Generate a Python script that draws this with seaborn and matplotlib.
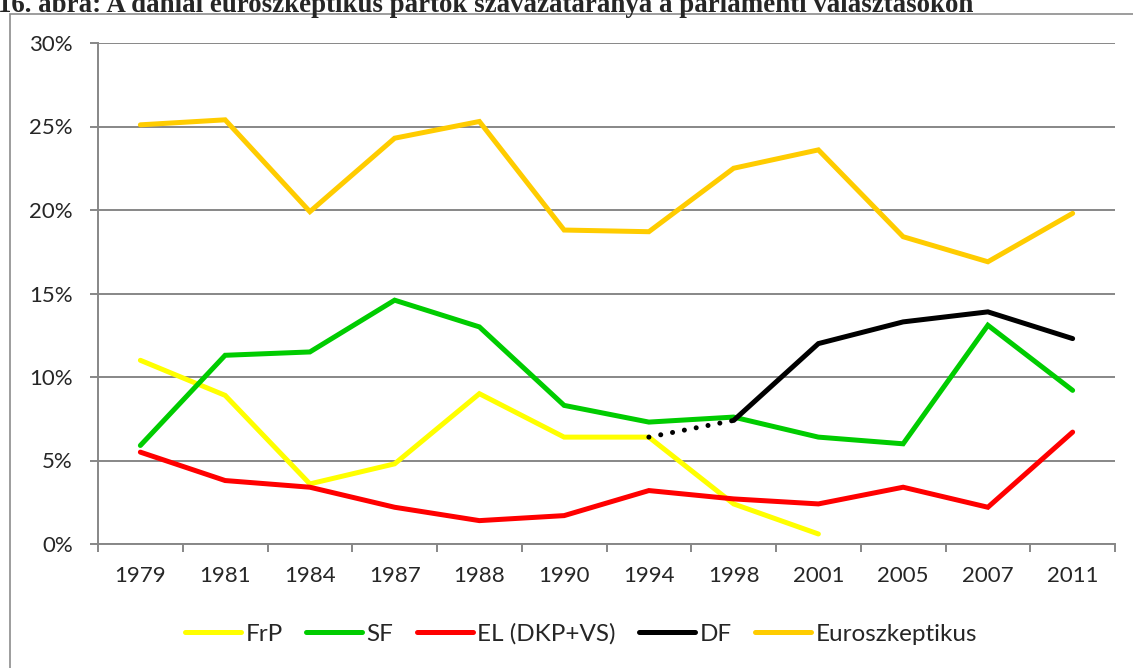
import numpy as np
import pandas as pd
import matplotlib
matplotlib.use('Agg')
import matplotlib.pyplot as plt
from matplotlib.patches import Rectangle
from matplotlib.lines import Line2D
from matplotlib.ticker import FixedLocator, PercentFormatter
import seaborn as sns

years = ['1979', '1981', '1984', '1987', '1988', '1990', '1994', '1998', '2001', '2005', '2007', '2011']
nan = np.nan
frp = [11.0, 8.9, 3.6, 4.8, 9.0, 6.4, 6.4, 2.4, 0.6, nan, nan, nan]
sf = [5.9, 11.3, 11.5, 14.6, 13.0, 8.3, 7.3, 7.6, 6.4, 6.0, 13.1, 9.2]
el = [5.5, 3.8, 3.4, 2.2, 1.4, 1.7, 3.2, 2.7, 2.4, 3.4, 2.2, 6.7]
df_party = [nan, nan, nan, nan, nan, nan, nan, 7.4, 12.0, 13.3, 13.9, 12.3]
euro = [25.1, 25.4, 19.9, 24.3, 25.3, 18.8, 18.7, 22.5, 23.6, 18.4, 16.9, 19.8]
# DF kivált az FrP-ből: pontozott átmenet 1994 -> 1998
split_years = ['1994', '1998']
split_vals = [6.4, 7.4]

names = ['FrP', 'SF', 'EL (DKP+VS)', 'DF', 'Euroszkeptikus']
colors = ['#FFFF00', '#00CC00', '#FF0000', '#000000', '#FFCC00']

data = pd.DataFrame({'FrP': frp, 'SF': sf, 'EL (DKP+VS)': el, 'DF': df_party, 'Euroszkeptikus': euro})
data['pos'] = range(len(years))
long = data.melt(id_vars='pos', var_name='party', value_name='share').dropna()

sns.set_theme(style='white')
plt.rcParams['font.family'] = ['Lato', 'DejaVu Sans']

fig = plt.figure(figsize=(11.33, 6.68), dpi=100)
ax = fig.add_axes([98/1133, 1-544/668, (1115-98)/1133, (544-43)/668])

sns.lineplot(data=long, x='pos', y='share', hue='party', hue_order=names,
             palette=colors, linewidth=3.6, ax=ax, legend=False, sort=True,
             solid_capstyle='round', solid_joinstyle='miter')

sp = [years.index(y) for y in split_years]
ax.plot(sp, split_vals, color='black', lw=3.6, linestyle=(0, (0.01, 2.4)),
        dash_capstyle='round')

ax.set_xlim(-0.5, len(years) - 0.5)
ax.set_ylim(0, 30)
ax.set_xticks(range(len(years)))
ax.set_xticklabels(years)
ax.xaxis.set_minor_locator(FixedLocator(np.arange(-0.5, len(years), 1)))
ax.set_yticks(range(0, 31, 5))
ax.yaxis.set_major_formatter(PercentFormatter(decimals=0))
ax.set_xlabel('')
ax.set_ylabel('')

grid_c = '#878787'
ax.yaxis.grid(True, color=grid_c, lw=1.4)
ax.xaxis.grid(False)
ax.set_axisbelow(True)
for s in ['top', 'right']:
    ax.spines[s].set_visible(False)
for s in ['left', 'bottom']:
    ax.spines[s].set_color(grid_c)
    ax.spines[s].set_linewidth(1.4)

ax.tick_params(axis='y', which='major', length=6, width=1.4, color=grid_c,
               direction='out', labelsize=16, pad=12, left=True)
ax.tick_params(axis='x', which='major', length=0, labelsize=16, pad=16)
ax.tick_params(axis='x', which='minor', length=6, width=1.4, color=grid_c,
               direction='out', bottom=True)

handles = [Line2D([], [], color=c, lw=3.6, solid_capstyle='round') for c in colors]
fig.legend(handles, names, loc='center', bbox_to_anchor=(581/1133, 1-634/668),
           ncol=5, frameon=False, fontsize=17.5, handlelength=2.3,
           handletextpad=0.2, columnspacing=0.95)

# külső diagramkeret
fig.add_artist(Rectangle((10/1133, -0.1), 1.0, 1-14/668+0.1, transform=fig.transFigure,
                         fill=False, edgecolor='#8c8c8c', lw=1.2))

fig.text(-2/1133, 1-12.5/668, '16. ábra: A dániai euroszkeptikus pártok szavazataránya a parlamenti választásokon',
         family='Liberation Serif', fontweight='bold', fontsize=19.4, va='baseline', ha='left')

fig.savefig('out.png', dpi=100, facecolor='white')
